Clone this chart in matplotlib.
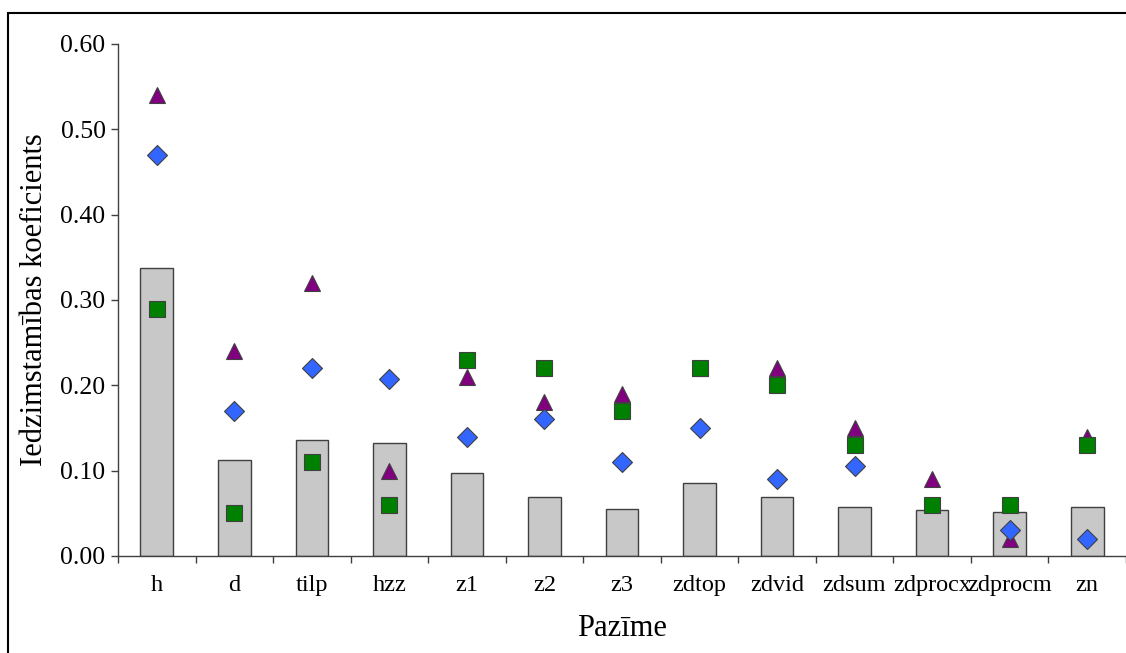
import matplotlib
matplotlib.use("Agg")
import matplotlib.pyplot as plt
import numpy as np
from matplotlib.patches import Rectangle

categories = ["h", "d", "tilp", "hzz", "z1", "z2", "z3", "zdtop", "zdvid",
              "zdsum", "zdprocx", "zdprocm", "zn"]
bar_values = [0.338, 0.112, 0.136, 0.132, 0.097, 0.069, 0.055, 0.086, 0.069,
              0.058, 0.054, 0.051, 0.058]
triangle_values = [0.54, 0.24, 0.32, 0.10, 0.21, 0.18, 0.19, 0.22, 0.22,
                   0.15, 0.09, 0.02, 0.14]
diamond_values = [0.47, 0.17, 0.22, 0.208, 0.14, 0.16, 0.11, 0.15, 0.09,
                  0.106, np.nan, 0.03, 0.02]
square_values = [0.29, 0.05, 0.11, 0.06, 0.23, 0.22, 0.17, 0.22, 0.20,
                 0.13, 0.06, 0.06, 0.13]
y_ticks = [0.0, 0.1, 0.2, 0.3, 0.4, 0.5, 0.6]

plt.rcParams['font.family'] = ['Liberation Serif', 'DejaVu Serif']

W, H = 1126, 653
fig = plt.figure(figsize=(W / 100, H / 100), dpi=100)
ax = fig.add_axes([118 / W, 1 - 556 / H, 1 - 118 / W, (556 - 44) / H])

x = np.arange(len(categories))
edge = "#404040"
ax.bar(x, bar_values, width=0.42, color="#C8C8C8", edgecolor=edge,
       linewidth=1.0, zorder=2)
ax.plot(x, triangle_values, linestyle="none", marker="^", ms=12,
        markerfacecolor="#800080", markeredgecolor=edge, markeredgewidth=0.8,
        zorder=3, clip_on=False)
ax.plot(x, diamond_values, linestyle="none", marker="D", ms=10,
        markerfacecolor="#3366FF", markeredgecolor=edge, markeredgewidth=0.8,
        zorder=4, clip_on=False)
ax.plot(x, square_values, linestyle="none", marker="s", ms=11.5,
        markerfacecolor="#008000", markeredgecolor=edge, markeredgewidth=0.8,
        zorder=5, clip_on=False)

ax.set_xlim(-0.5, len(categories) - 0.5)
ax.set_ylim(0, 0.6)
ax.set_yticks(y_ticks)
ax.set_yticklabels([f"{v:.2f}" for v in y_ticks])
ax.set_xticks(x)
ax.set_xticklabels(categories)
ax.set_xticks(np.arange(len(categories) + 1) - 0.5, minor=True)
ax.tick_params(axis="x", which="major", length=0, pad=14, labelsize=17.5)
ax.tick_params(axis="x", which="minor", length=5, direction="out",
               color=edge, width=1)
ax.tick_params(axis="y", length=5, direction="out", color=edge, width=1,
               labelsize=18.5, pad=4)

for s in ["top", "right"]:
    ax.spines[s].set_visible(False)
for s in ["left", "bottom"]:
    ax.spines[s].set_color(edge)
    ax.spines[s].set_linewidth(1.0)

ax.set_xlabel("Pazīme", fontsize=22, labelpad=13)
ax.set_ylabel("Iedzimstamības koeficients", fontsize=22, labelpad=8)

fig.patches.append(Rectangle((8 / W, -0.5), 2.0, 1.5 - 13 / H,
                             transform=fig.transFigure, fill=False,
                             edgecolor="black", linewidth=1.5))

fig.savefig("out.png", dpi=100)
